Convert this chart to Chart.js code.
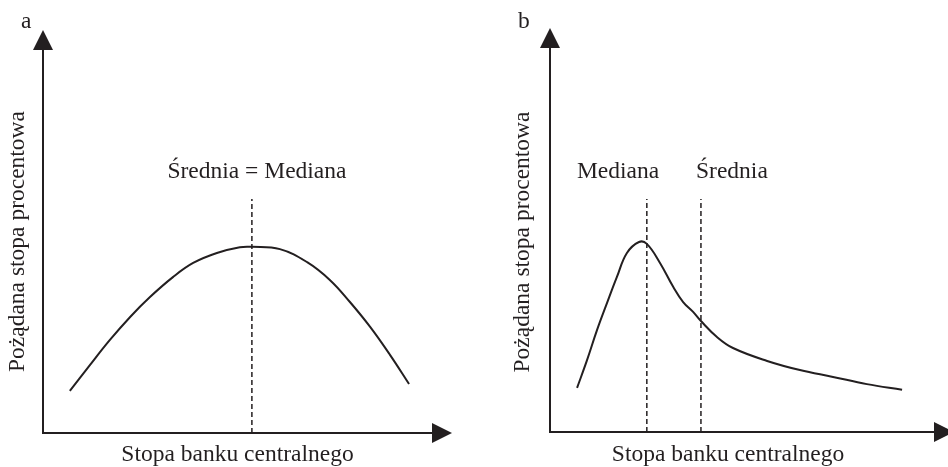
<!DOCTYPE html>
<html>
<head>
<meta charset="utf-8">
<script src="https://cdn.jsdelivr.net/npm/chart.js@4.4.0/dist/chart.umd.min.js"></script>
<style>
  html, body { margin: 0; padding: 0; background: #fff; }
  .panel { position: absolute; top: 0; width: 474px; height: 467px; }
</style>
</head>
<body>
<div class="panel" style="left:0"><canvas id="chartA" width="474" height="467"></canvas></div>
<div class="panel" style="left:474px"><canvas id="chartB" width="474" height="467"></canvas></div>
<script>
// panel a: symmetric distribution (units 0-100 on both axes)
const curveAX = [6.9, 12.1, 17.2, 22.4, 27.5, 33.4, 38.6, 44.7, 50.6, 53.7, 60.9, 67.9, 73.8, 78.9, 84.1, 89.2, 94.1];
const curveAY = [11.0, 17.8, 24.3, 30.3, 35.5, 40.7, 44.4, 47.0, 48.5, 48.6, 48.0, 44.6, 39.9, 34.2, 27.7, 20.4, 12.8];
const markerAX = [53.7];
const markerATop = [61.1];
const markerALabels = ['Średnia = Mediana'];
const markerALabelX = [55.0];

// panel b: skewed distribution
const curveBX = [7.6, 10.4, 13.2, 16.0, 18.8, 21.6, 25.0, 27.2, 30.9, 34.6, 37.4, 40.2, 42.4, 46.9, 51.4, 61.0, 70.2, 79.5, 89.0, 98.9];
const curveBY = [11.6, 18.9, 26.8, 33.9, 40.8, 47.1, 50.0, 49.5, 44.5, 38.2, 34.2, 31.6, 29.2, 25.0, 22.1, 18.7, 16.3, 14.5, 12.6, 11.1];
const markerBX = [27.2, 42.4];
const markerBTop = [61.3, 61.3];
const markerBLabels = ['Mediana', 'Średnia'];
const markerBLabelX = [19.1, 51.1];

const yTitle = 'Pożądana stopa procentowa';
const xTitle = 'Stopa banku centralnego';

const INK = '#231f20';
const FONT_FAMILY = "'Liberation Serif', 'Times New Roman', serif";
const FONT_SIZE = 23.5;

const toPoints = (xs, ys) => xs.map((x, i) => ({ x: x, y: ys[i] }));

function buildDatasets(xs, ys, mx, mTop) {
    const sets = [{
        data: toPoints(xs, ys),
        borderColor: INK,
        borderWidth: 2,
        pointRadius: 0,
        tension: 0.4,
        fill: false
    }];
    mx.forEach((x, i) => {
        sets.push({
            data: [{ x: x, y: 0 }, { x: x, y: mTop[i] }],
            borderColor: INK,
            borderWidth: 1.5,
            borderDash: [5, 3],
            pointRadius: 0,
            fill: false
        });
    });
    return sets;
}

// arrows on the axes, marker labels and the panel letter
const sketchDecor = {
    id: 'sketchDecor',
    afterDraw(chart, args, opts) {
        const { ctx, chartArea, scales } = chart;
        const { left, top, right, bottom } = chartArea;
        ctx.save();
        ctx.strokeStyle = INK;
        ctx.fillStyle = INK;
        ctx.lineWidth = 2;

        const yBase = top - opts.yExtend;
        const xBase = right + opts.xExtend;
        ctx.beginPath();
        ctx.moveTo(left, top);
        ctx.lineTo(left, yBase);
        ctx.moveTo(right, bottom);
        ctx.lineTo(xBase, bottom);
        ctx.stroke();

        ctx.beginPath();
        ctx.moveTo(left - 10, yBase);
        ctx.lineTo(left, yBase - 20);
        ctx.lineTo(left + 10, yBase);
        ctx.closePath();
        ctx.fill();

        ctx.beginPath();
        ctx.moveTo(xBase, bottom - 10);
        ctx.lineTo(xBase + 20, bottom);
        ctx.lineTo(xBase, bottom + 10);
        ctx.closePath();
        ctx.fill();

        ctx.font = FONT_SIZE + 'px ' + FONT_FAMILY;
        ctx.textAlign = 'center';
        ctx.textBaseline = 'alphabetic';
        opts.labels.forEach((t, i) => {
            ctx.fillText(t, scales.x.getPixelForValue(opts.labelX[i]), scales.y.getPixelForValue(opts.labelY));
        });

        ctx.textAlign = 'left';
        ctx.fillText(opts.letter, opts.letterX, 28);
        ctx.restore();
    }
};

function makeChart(id, datasets, padding, yTitlePad, xTitlePad, decor) {
    const font = { family: FONT_FAMILY, size: FONT_SIZE, lineHeight: 1 };
    return new Chart(document.getElementById(id), {
        type: 'line',
        data: { datasets: datasets },
        options: {
            responsive: false,
            animation: false,
            events: [],
            layout: { padding: padding },
            plugins: {
                legend: { display: false },
                tooltip: { enabled: false },
                sketchDecor: decor
            },
            scales: {
                x: {
                    type: 'linear', min: 0, max: 100,
                    ticks: { display: false },
                    grid: { display: false, drawTicks: false },
                    border: { color: INK, width: 2 },
                    title: { display: true, text: xTitle, color: INK, font: font, padding: xTitlePad }
                },
                y: {
                    type: 'linear', min: 0, max: 100,
                    ticks: { display: false },
                    grid: { display: false, drawTicks: false },
                    border: { color: INK, width: 2 },
                    title: { display: true, text: yTitle, color: INK, font: font, padding: yTitlePad }
                }
            }
        },
        plugins: [sketchDecor]
    });
}

makeChart('chartA',
    buildDatasets(curveAX, curveAY, markerAX, markerATop),
    { top: 50, right: 42, bottom: 0, left: 0 },
    { top: 6.25, bottom: 13.25 },
    { top: 10, bottom: 0.5 },
    { xExtend: 0, yExtend: 0, labels: markerALabels, labelX: markerALabelX, labelY: 66.6, letter: 'a', letterX: 21 });

makeChart('chartB',
    buildDatasets(curveBX, curveBY, markerBX, markerBTop),
    { top: 52, right: 42, bottom: 0, left: 30 },
    { top: 6.95, bottom: 15.55 },
    { top: 11, bottom: 0.5 },
    { xExtend: 28, yExtend: 4, labels: markerBLabels, labelX: markerBLabelX, labelY: 66.8, letter: 'b', letterX: 44 });
</script>
</body>
</html>
